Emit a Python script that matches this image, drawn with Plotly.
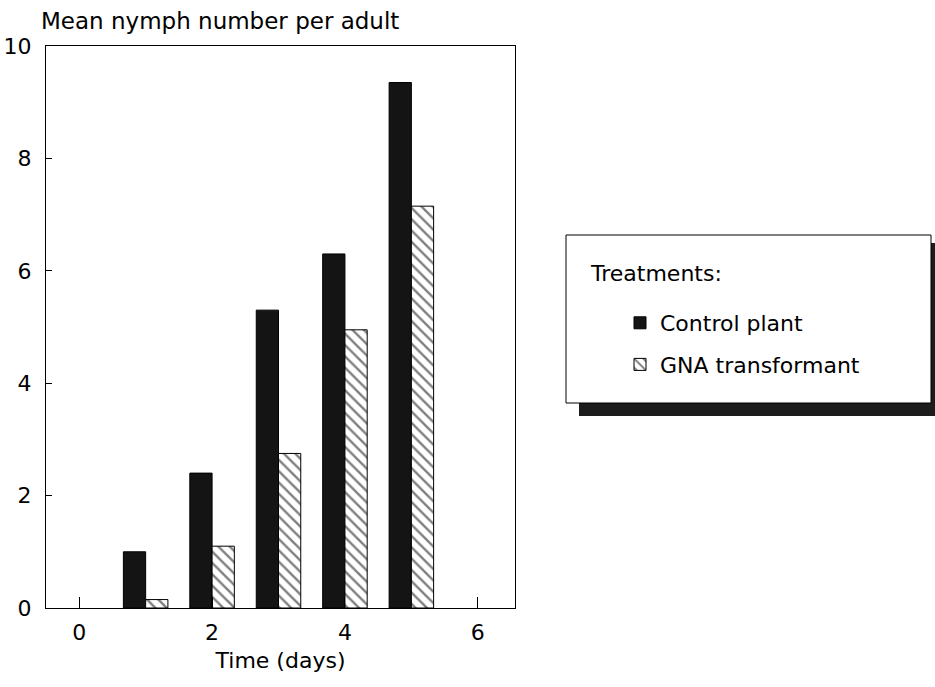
import plotly.graph_objects as go

# Mean nymph number per adult, by day
days = [1, 2, 3, 4, 5]
control_plant = [1.0, 2.4, 5.3, 6.3, 9.35]
gna_transformant = [0.15, 1.1, 2.75, 4.95, 7.15]

x_ticks = [0, 2, 4, 6]
y_ticks = [0, 2, 4, 6, 8, 10]

FONT = "DejaVu Sans"
TXT = dict(family=FONT, size=22, color="black")
TICK = dict(family=FONT, size=22, color="black")

# plot area in pixels
L, R, T, B = 46, 515, 46, 608
W, H = 935, 687


def xp(px):
    return (px - L) / (R - L)


def yp(py):
    return (B - py) / (B - T)


fig = go.Figure()
fig.add_trace(go.Bar(
    x=days, y=control_plant, name="Control plant", legendgroup="c",
    marker=dict(color="#141414", line=dict(color="black", width=1)),
))
fig.add_trace(go.Bar(
    x=days, y=gna_transformant, name="GNA transformant", legendgroup="g",
    marker=dict(color="white", line=dict(color="black", width=1),
                pattern=dict(shape="\\", fgcolor="black", bgcolor="white",
                             size=8, solidity=0.3)),
))

# legend frame with drop shadow
fig.add_shape(type="rect", xref="paper", yref="paper",
              x0=xp(579), x1=xp(945), y0=yp(416), y1=yp(243),
              fillcolor="#1c1c1c", line=dict(width=0))
fig.add_shape(type="rect", xref="paper", yref="paper",
              x0=xp(566), x1=xp(931), y0=yp(403), y1=yp(235),
              fillcolor="white", line=dict(color="black", width=1))

fig.add_annotation(text="Mean nymph number per adult", xref="paper", yref="paper",
                   x=xp(39), y=yp(21), xanchor="left", yanchor="middle",
                   showarrow=False, font=dict(family=FONT, size=23, color="black"))
fig.add_annotation(text="Treatments:", xref="paper", yref="paper",
                   x=xp(588), y=yp(273), xanchor="left", yanchor="middle",
                   showarrow=False, font=TXT)

fig.update_layout(
    width=W, height=H,
    margin=dict(l=L, r=W - R, t=T, b=H - B, pad=0, autoexpand=False),
    paper_bgcolor="white", plot_bgcolor="white",
    font=TXT,
    barmode="group", bargap=0.33, bargroupgap=0,
    showlegend=True,
    legend=dict(
        x=xp(590), y=yp(302), xanchor="left", yanchor="top",
        bgcolor="rgba(0,0,0,0)", borderwidth=0,
        font=TXT,
        traceorder="grouped", tracegroupgap=10, indentation=30,
    ),
    xaxis=dict(
        range=[-0.5, 6.56], tickvals=x_ticks, ticks="inside", ticklen=11,
        tickcolor="black", tickwidth=1, showgrid=False, zeroline=False,
        showline=True, linecolor="black", linewidth=1, mirror=True,
        ticklabelstandoff=5, tickfont=TICK, automargin=False,
        title=dict(text="Time (days)", font=TXT, standoff=8),
    ),
    yaxis=dict(
        range=[0, 10], tickvals=y_ticks, ticks="inside", ticklen=6,
        tickcolor="black", tickwidth=1, showgrid=False, zeroline=False,
        showline=True, linecolor="black", linewidth=1, mirror=True,
        ticklabelstandoff=9, tickfont=TICK, automargin=False,
    ),
)

fig.write_html("out.html")
